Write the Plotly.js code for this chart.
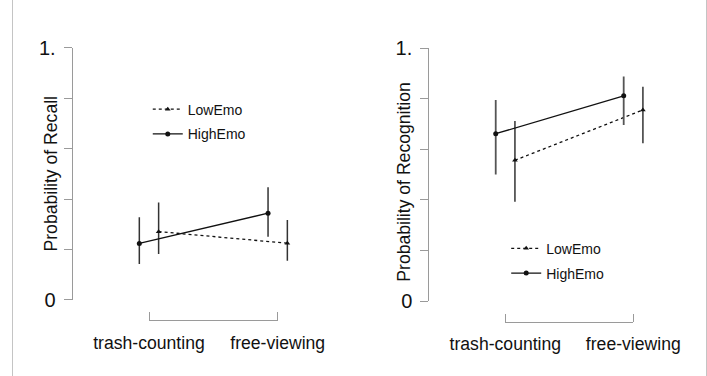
<!DOCTYPE html>
<html>
<head>
<meta charset="utf-8">
<script src="https://cdn.plot.ly/plotly-3.0.1.min.js"></script>
<style>html,body{margin:0;padding:0;background:#fff;}#chart{width:707px;height:376px;}</style>
</head>
<body>
<div id="chart"></div>
<script>
// ---- data ----
const categories = ["trash-counting", "free-viewing"];
const seriesNames = ["LowEmo", "HighEmo"];

// Panel 1: Probability of Recall
const recallLow = [0.271, 0.225];
const recallLowUp = [0.386, 0.317];
const recallLowDown = [0.182, 0.156];
const recallHigh = [0.224, 0.344];
const recallHighUp = [0.328, 0.447];
const recallHighDown = [0.143, 0.251];

// Panel 2: Probability of Recognition
const recogLow = [0.557, 0.756];
const recogLowUp = [0.712, 0.848];
const recogLowDown = [0.393, 0.624];
const recogHigh = [0.662, 0.812];
const recogHighUp = [0.795, 0.888];
const recogHighDown = [0.501, 0.696];

const yTickVals = [0, 0.2, 0.4, 0.6, 0.8, 1.0];
const yTickText = ["0", "", "", "", "", "1."];
const yTitles = ["Probability of Recall", "Probability of Recognition"];

// ---- build ----
const FONT = "'Liberation Sans', Arial, Helvetica, sans-serif";
const dodge = 0.075;
const idx = categories.map((c, i) => i);
const xLow = idx.map(i => i + dodge);
const xHigh = idx.map(i => i - dodge);

function errArr(vals, up, down) {
  return {
    type: 'data', symmetric: false,
    array: up.map((u, i) => u - vals[i]),
    arrayminus: vals.map((v, i) => v - down[i]),
    width: 0
  };
}

function series(name, xs, vals, up, down, xa, ya, leg, dash, symbol, ecolor, ethick) {
  const e = errArr(vals, up, down);
  e.color = ecolor; e.thickness = ethick;
  return {
    type: 'scatter', mode: 'lines+markers', name: name,
    x: xs, y: vals, xaxis: xa, yaxis: ya, legend: leg,
    legendgroup: leg + name,
    line: {color: '#111', width: 1.3, dash: dash},
    marker: {color: '#111', size: 5, symbol: symbol},
    error_y: e, cliponaxis: false
  };
}

const traces = [
  series(seriesNames[0], xLow, recallLow, recallLowUp, recallLowDown, 'x', 'y', 'legend', 'dot', 'triangle-up', '#333', 1.5),
  series(seriesNames[1], xHigh, recallHigh, recallHighUp, recallHighDown, 'x', 'y', 'legend', 'solid', 'circle', '#333', 1.5),
  series(seriesNames[0], xLow, recogLow, recogLowUp, recogLowDown, 'x2', 'y2', 'legend2', 'dot', 'triangle-up', '#555', 1.8),
  series(seriesNames[1], xHigh, recogHigh, recogHighUp, recogHighDown, 'x2', 'y2', 'legend2', 'solid', 'circle', '#555', 1.8),
  // carriers for the bracket-style category axes
  {type: 'scatter', mode: 'lines', x: idx, y: idx.map(() => null), xaxis: 'x3', yaxis: 'y', showlegend: false, hoverinfo: 'skip'},
  {type: 'scatter', mode: 'lines', x: idx, y: idx.map(() => null), xaxis: 'x4', yaxis: 'y2', showlegend: false, hoverinfo: 'skip'}
];

function yAxis(domain, pos) {
  return {
    domain: domain, range: [0, 1], anchor: 'free', position: pos,
    showgrid: false, zeroline: false, showline: true, linecolor: '#9a9a9a', linewidth: 1,
    ticks: 'outside', ticklen: 8, tickcolor: '#9a9a9a', tickwidth: 1,
    tickvals: yTickVals, ticktext: yTickText, ticklabelstandoff: 4,
    tickfont: {family: FONT, size: 20, color: '#111'}
  };
}
// category label axis (positions through the same scale as the marks)
function labelX(domain, pos) {
  return {
    domain: domain, range: [-0.25, 1.25], anchor: 'free', position: pos,
    showgrid: false, zeroline: false, showline: false, ticks: '',
    tickvals: idx, ticktext: categories, ticklabelstandoff: 10,
    tickfont: {family: FONT, size: 17.6, color: '#111'}, fixedrange: true
  };
}
// bracket line between the two categories, end ticks pointing up
function bracketX(domain, pos) {
  return {
    domain: domain, range: [0, 1], anchor: 'free', position: pos, side: 'top',
    showgrid: false, zeroline: false, showline: true, linecolor: '#9a9a9a', linewidth: 1,
    ticks: 'outside', ticklen: 8, tickcolor: '#9a9a9a', tickwidth: 1,
    tickvals: idx, showticklabels: false
  };
}

const legendBase = {
  font: {family: FONT, size: 14, color: '#111'}, bgcolor: 'rgba(0,0,0,0)',
  traceorder: 'grouped', tracegroupgap: 3.5, xanchor: 'left', yanchor: 'top', itemwidth: 30
};

const layout = {
  width: 707, height: 376,
  margin: {l: 0, r: 0, t: 0, b: 0},
  paper_bgcolor: '#fff', plot_bgcolor: 'rgba(0,0,0,0)',
  font: {family: FONT, color: '#111'},
  showlegend: true,
  xaxis: labelX([0.1652, 0.4383], 0.14894),
  xaxis2: labelX([0.6695, 0.9410], 0.14441),
  xaxis3: bracketX([0.21075, 0.39279], 0.14894),
  xaxis4: bracketX([0.71471, 0.89576], 0.14441),
  yaxis: yAxis([0.20213, 0.87314], 0.10141),
  yaxis2: yAxis([0.19947, 0.87154], 0.60580),
  legend: Object.assign({x: 0.209, y: 0.751}, legendBase),
  legend2: Object.assign({x: 0.716, y: 0.381}, legendBase),
  annotations: [
    {text: yTitles[0], xref: 'paper', yref: 'paper', x: 50.5/707, y: (376-174)/376, textangle: -90,
     xanchor: 'center', yanchor: 'middle', showarrow: false, font: {family: FONT, size: 17.6, color: '#111'}},
    {text: yTitles[1], xref: 'paper', yref: 'paper', x: 404/707, y: (376-181.7)/376, textangle: -90,
     xanchor: 'center', yanchor: 'middle', showarrow: false, font: {family: FONT, size: 17.6, color: '#111'}}
  ],
  shapes: [
    {type: 'line', xref: 'paper', yref: 'paper', x0: 12.5/707, x1: 12.5/707, y0: 0, y1: 1, line: {color: '#c4c4c4', width: 1}},
    {type: 'line', xref: 'paper', yref: 'paper', x0: 706.5/707, x1: 706.5/707, y0: 0, y1: 1, line: {color: '#c4c4c4', width: 1}}
  ]
};

Plotly.newPlot('chart', traces, layout, {staticPlot: true, displayModeBar: false});
</script>
</body>
</html>
